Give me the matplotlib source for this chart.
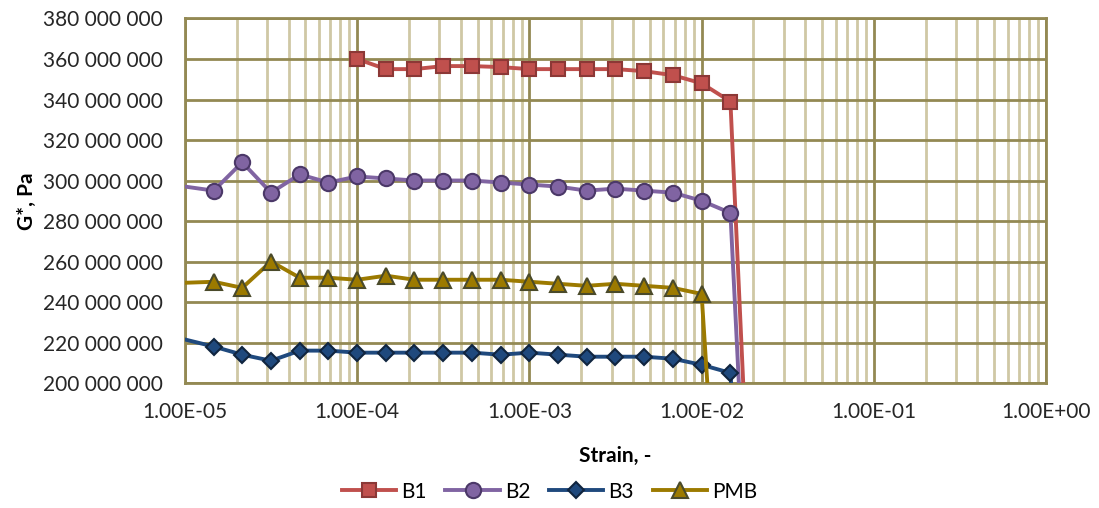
import numpy as np
import matplotlib.pyplot as plt
from matplotlib.ticker import FixedLocator, FuncFormatter, LogLocator, NullFormatter

plt.rcParams['font.family'] = ['Lato', 'DejaVu Sans']

# strain points (log spaced, 6 per decade)
strain = [6.81e-6, 1.00e-5, 1.47e-5, 2.15e-5, 3.16e-5, 4.64e-5, 6.81e-5,
          1.00e-4, 1.47e-4, 2.15e-4, 3.16e-4, 4.64e-4, 6.81e-4,
          1.00e-3, 1.47e-3, 2.15e-3, 3.16e-3, 4.64e-3, 6.81e-3,
          1.00e-2, 1.47e-2, 2.15e-2]

# G* values in Pa (None = no measurement)
b1 = [None, None, None, None, None, None, None,
      360e6, 355e6, 355e6, 356.5e6, 356.5e6, 356e6,
      355e6, 355e6, 355e6, 355e6, 354e6, 352e6,
      348e6, 339e6, 30e6]
b2 = [299e6, None, 295e6, 309e6, 294e6, 303e6, 299e6,
      302e6, 301e6, 300e6, 300e6, 300e6, 299e6,
      298e6, 297e6, 295e6, 296e6, 295e6, 294e6,
      290e6, 284e6, 0.5e6]
b3 = [225e6, None, 218e6, 214e6, 211e6, 216e6, 216e6,
      215e6, 215e6, 215e6, 215e6, 215e6, 214e6,
      215e6, 214e6, 213e6, 213e6, 213e6, 212e6,
      209e6, 205e6, 0.5e6]
pmb = [249e6, None, 250e6, 247e6, 260e6, 252e6, 252e6,
       251e6, 253e6, 251e6, 251e6, 251e6, 251e6,
       250e6, 249e6, 248e6, 249e6, 248e6, 247e6,
       244e6, 22e6, None]

series = [
    ('B1', b1, '#C0504D', '#8C3836', 's', 10),
    ('B2', b2, '#8064A2', '#4B3868', 'o', 11),
    ('B3', b3, '#1F497D', '#10253F', 'D', 8.5),
    ('PMB', pmb, '#9C7A00', '#4A4A2A', '^', 11),
]

fig = plt.figure(figsize=(10.99, 5.08), dpi=100)
ax = fig.add_axes([0.1683, 0.246, 0.7835, 0.7176])

for name, vals, col, edge, mk, ms in series:
    x = [s for s, v in zip(strain, vals) if v is not None]
    y = [v for v in vals if v is not None]
    ax.plot(x, y, color=col, lw=2.8, marker=mk, markersize=ms,
            markerfacecolor=col, markeredgecolor=edge, markeredgewidth=1.5,
            label=name, zorder=3)

ax.set_xscale('log')
ax.set_xlim(1e-5, 1e0)
ax.set_ylim(200e6, 380e6)
ax.set_yticks(np.arange(200e6, 380e6 + 1, 20e6))
ax.yaxis.set_major_formatter(FuncFormatter(lambda v, p: f'{int(v):,}'.replace(',', ' ')))
ax.xaxis.set_major_locator(FixedLocator([1e-5, 1e-4, 1e-3, 1e-2, 1e-1, 1e0]))
ax.xaxis.set_major_formatter(FuncFormatter(lambda v, p: f'{v:.2E}'))
ax.xaxis.set_minor_locator(LogLocator(base=10, subs=np.arange(2, 10)))
ax.xaxis.set_minor_formatter(NullFormatter())

ax.grid(True, which='major', color='#938953', lw=2, zorder=1)
ax.grid(True, which='minor', axis='x', color='#CFC8A5', lw=2, zorder=0)
for sp in ax.spines.values():
    sp.set_color('#938953')
    sp.set_linewidth(2)
ax.tick_params(which='both', length=0, labelsize=15, colors='#262626')
ax.tick_params(axis='y', pad=16)
ax.tick_params(axis='x', pad=14)

ax.set_xlabel('Strain, -', fontsize=15, fontweight='bold', labelpad=17)
ax.set_ylabel('G*, Pa', fontsize=15, fontweight='bold', labelpad=4)

fig.legend(*ax.get_legend_handles_labels(), loc='center', bbox_to_anchor=(0.5, 0.032),
           ncol=4, frameon=False, fontsize=15, handlelength=2.6,
           columnspacing=0.9, handletextpad=0.25)

fig.savefig('out.png', dpi=100)
